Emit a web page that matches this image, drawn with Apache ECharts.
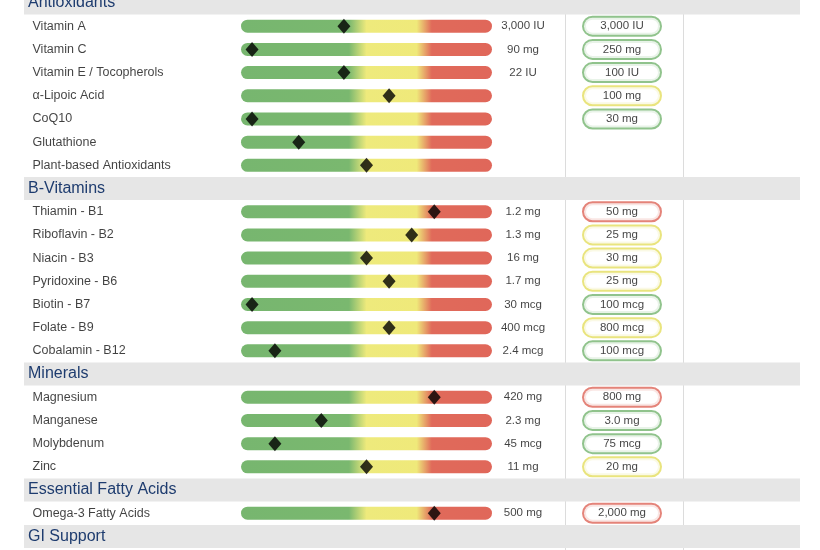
<!DOCTYPE html>
<html><head><meta charset="utf-8">
<script src="https://cdn.jsdelivr.net/npm/echarts@6/dist/echarts.min.js"></script>
<style>html,body{margin:0;padding:0;background:#fff}#c{width:820px;height:550px}</style>
</head><body><div id="c"></div>
<script>
// H: = section header row
const rows = ['H:Antioxidants','Vitamin A','Vitamin C','Vitamin E / Tocopherols','α-Lipoic Acid','CoQ10','Glutathione','Plant-based Antioxidants',
 'H:B-Vitamins','Thiamin - B1','Riboflavin - B2','Niacin - B3','Pyridoxine - B6','Biotin - B7','Folate - B9','Cobalamin - B12',
 'H:Minerals','Magnesium','Manganese','Molybdenum','Zinc',
 'H:Essential Fatty Acids','Omega-3 Fatty Acids','H:GI Support'];
const levels = [null,41,4.4,41,59,4.4,23,50, null,77,68,50,59,4.4,59,13.5, null,77,32,13.5,50, null,77, null];
const rda = [null,'3,000 IU','90 mg','22 IU','','','','', null,'1.2 mg','1.3 mg','16 mg','1.7 mg','30 mcg','400 mcg','2.4 mcg', null,'420 mg','2.3 mg','45 mcg','11 mg', null,'500 mg', null];
const dose = [null,'3,000 IU','250 mg','100 IU','100 mg','30 mg','','', null,'50 mg','25 mg','30 mg','25 mg','100 mcg','800 mcg','100 mcg', null,'800 mg','3.0 mg','75 mcg','20 mg', null,'2,000 mg', null];
const doseStatus = [null,'g','g','g','y','g','','', null,'r','y','y','y','g','y','g', null,'r','g','g','y', null,'r', null];

const statusColor = {g:'#74b46f', y:'#e3dd5e', r:'#dd6457'};
const cats = rows.map((r,i)=>String(i));
const isH = r => r.startsWith('H:');
const TOP=3, H=533.4;
const grids=[
 {left:24,right:20,top:TOP,height:H},
 {left:30,width:200,top:TOP,height:H},
 {left:241,width:251,top:TOP,height:H},
 {left:495,width:56,top:TOP,height:H},
 {left:565,width:118,top:14,bottom:0},
 {left:582,width:80,top:TOP,height:H}
];
const yAxes=grids.map((g,i)=>i===4?{gridIndex:i,type:'value',min:0,max:1,show:false}:
  {gridIndex:i,type:'category',data:cats,inverse:true,show:false,boundaryGap:false});
const xAxes=grids.map((g,i)=>({gridIndex:i,type:'value',min:0,max:i===2?100:1,show:i===4,
  axisLine:{show:false},axisTick:{show:false},axisLabel:{show:false},
  splitLine:{show:i===4,lineStyle:{color:'#dcdcdc',width:1}},interval:1}));
const grad={type:'linear',x:0,y:0,x2:1,y2:0,colorStops:[
 {offset:0,color:'#77b66f'},{offset:0.43,color:'#7ab86f'},{offset:0.5,color:'#eeea7c'},
 {offset:0.7,color:'#efe97a'},{offset:0.76,color:'#e06a5a'},{offset:1,color:'#e0675a'}]};
const FF='Liberation Sans, Arial';
const option={animation:false,grid:grids,xAxis:xAxes,yAxis:yAxes,series:[
 {type:'bar',xAxisIndex:0,yAxisIndex:0,barWidth:23,z:10,silent:true,
  data:rows.map(r=>isH(r)?{value:1,label:{show:true,formatter:r.slice(2)}}:null),
  itemStyle:{color:'#e6e6e6'},
  label:{show:false,position:'insideLeft',offset:[-1,0],color:'#1e3c6f',fontSize:16,fontFamily:FF}},
 {type:'scatter',xAxisIndex:1,yAxisIndex:1,symbolSize:1,itemStyle:{color:'transparent'},
  data:rows.map(r=>isH(r)?null:{value:0,label:{formatter:r}}),
  label:{show:true,position:'right',distance:2,color:'#111',fontSize:12.5,fontFamily:FF}},
 {type:'bar',xAxisIndex:2,yAxisIndex:2,barWidth:13,
  data:rows.map(r=>isH(r)?null:100),itemStyle:{color:grad,borderRadius:7}},
 {type:'scatter',xAxisIndex:2,yAxisIndex:2,symbol:'diamond',symbolSize:[13,15],z:5,
  itemStyle:{color:'#000'},data:levels},
 {type:'scatter',xAxisIndex:3,yAxisIndex:3,symbolSize:1,itemStyle:{color:'transparent'},
  data:rda.map(v=>v?{value:0.5,label:{formatter:v}}:null),
  label:{show:true,position:'inside',color:'#111',fontSize:11.5,fontFamily:FF}},
 {type:'scatter',xAxisIndex:5,yAxisIndex:5,symbolSize:1,z:4,itemStyle:{color:'transparent'},
  data:dose.map((v,i)=>v?{value:0.5,label:{formatter:v,borderColor:statusColor[doseStatus[i]]}}:null),
  label:{show:true,position:'inside',color:'#111',fontSize:11.5,fontFamily:FF,
    backgroundColor:'#fff',borderWidth:2,borderRadius:11,width:76,height:17,lineHeight:17,align:'center',verticalAlign:'middle',padding:[0,0]}}
]};
echarts.init(document.getElementById('c')).setOption(option);
</script></body></html>
